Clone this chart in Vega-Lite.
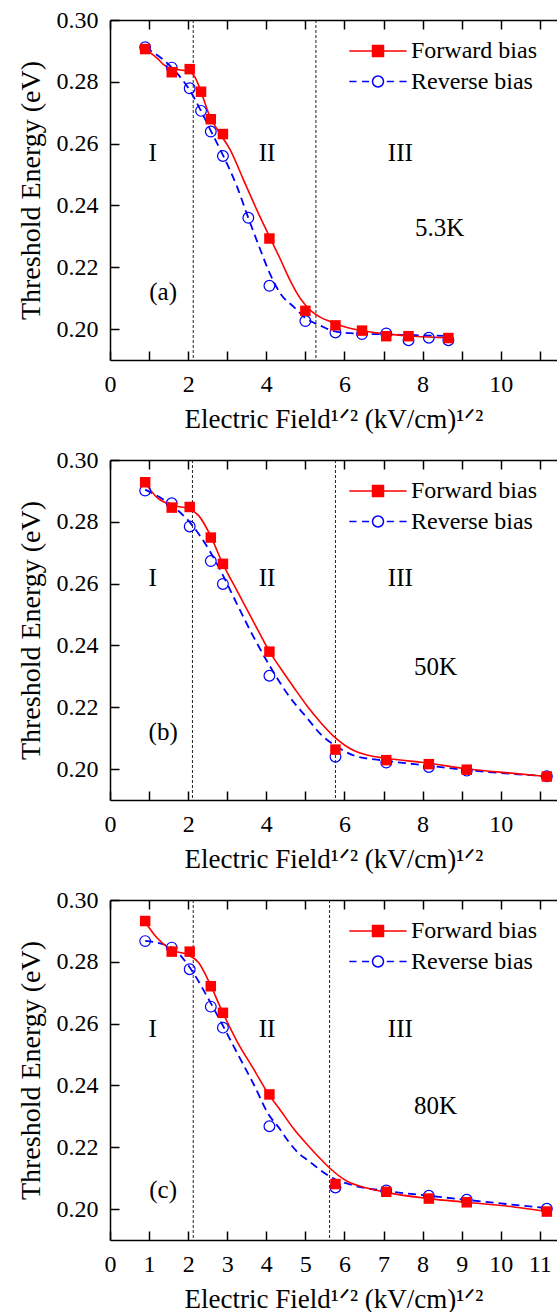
{
"$schema": "https://vega.github.io/schema/vega-lite/v6.json",
"padding": {"left": 17, "top": 8, "right": 0, "bottom": 0},
"bounds": "flush",
"spacing": 100,
"datasets": {
"pts": [
{"p":"a","s":"F","x":0.9,"y":0.2906},{"p":"a","s":"F","x":1.58,"y":0.2831},{"p":"a","s":"F","x":2.04,"y":0.2841},{"p":"a","s":"F","x":2.33,"y":0.2768},{"p":"a","s":"F","x":2.58,"y":0.2679},{"p":"a","s":"F","x":2.89,"y":0.2631},{"p":"a","s":"F","x":4.08,"y":0.2293},{"p":"a","s":"F","x":5.0,"y":0.2059},{"p":"a","s":"F","x":5.77,"y":0.2012},{"p":"a","s":"F","x":6.45,"y":0.1995},{"p":"a","s":"F","x":7.07,"y":0.1977},{"p":"a","s":"F","x":7.64,"y":0.1977},{"p":"a","s":"F","x":8.66,"y":0.1971},
{"p":"a","s":"R","x":0.9,"y":0.2912},{"p":"a","s":"R","x":1.58,"y":0.2846},{"p":"a","s":"R","x":2.04,"y":0.2779},{"p":"a","s":"R","x":2.33,"y":0.2706},{"p":"a","s":"R","x":2.58,"y":0.2639},{"p":"a","s":"R","x":2.89,"y":0.256},{"p":"a","s":"R","x":3.54,"y":0.236},{"p":"a","s":"R","x":4.08,"y":0.214},{"p":"a","s":"R","x":5.0,"y":0.2026},{"p":"a","s":"R","x":5.77,"y":0.1989},{"p":"a","s":"R","x":6.45,"y":0.1984},{"p":"a","s":"R","x":7.07,"y":0.1986},{"p":"a","s":"R","x":7.64,"y":0.1964},{"p":"a","s":"R","x":8.16,"y":0.1972},{"p":"a","s":"R","x":8.66,"y":0.1964},
{"p":"b","s":"F","x":0.9,"y":0.2928},{"p":"b","s":"F","x":1.58,"y":0.2846},{"p":"b","s":"F","x":2.04,"y":0.2848},{"p":"b","s":"F","x":2.58,"y":0.2749},{"p":"b","s":"F","x":2.89,"y":0.2664},{"p":"b","s":"F","x":4.08,"y":0.238},{"p":"b","s":"F","x":5.77,"y":0.2063},{"p":"b","s":"F","x":7.07,"y":0.2029},{"p":"b","s":"F","x":8.16,"y":0.2016},{"p":"b","s":"F","x":9.13,"y":0.1998},{"p":"b","s":"F","x":11.18,"y":0.1976},
{"p":"b","s":"R","x":0.9,"y":0.2901},{"p":"b","s":"R","x":1.58,"y":0.286},{"p":"b","s":"R","x":2.04,"y":0.2785},{"p":"b","s":"R","x":2.58,"y":0.2673},{"p":"b","s":"R","x":2.89,"y":0.2599},{"p":"b","s":"R","x":4.08,"y":0.2302},{"p":"b","s":"R","x":5.77,"y":0.204},{"p":"b","s":"R","x":7.07,"y":0.2021},{"p":"b","s":"R","x":8.16,"y":0.2007},{"p":"b","s":"R","x":9.13,"y":0.1995},{"p":"b","s":"R","x":11.18,"y":0.1977},
{"p":"c","s":"F","x":0.9,"y":0.2932},{"p":"c","s":"F","x":1.58,"y":0.2833},{"p":"c","s":"F","x":2.04,"y":0.2833},{"p":"c","s":"F","x":2.58,"y":0.2721},{"p":"c","s":"F","x":2.89,"y":0.2635},{"p":"c","s":"F","x":4.08,"y":0.2371},{"p":"c","s":"F","x":5.77,"y":0.2081},{"p":"c","s":"F","x":7.07,"y":0.2056},{"p":"c","s":"F","x":8.16,"y":0.2034},{"p":"c","s":"F","x":9.13,"y":0.2022},{"p":"c","s":"F","x":11.18,"y":0.1992},
{"p":"c","s":"R","x":0.9,"y":0.2867},{"p":"c","s":"R","x":1.58,"y":0.2846},{"p":"c","s":"R","x":2.04,"y":0.2776},{"p":"c","s":"R","x":2.58,"y":0.2655},{"p":"c","s":"R","x":2.89,"y":0.2587},{"p":"c","s":"R","x":4.08,"y":0.2268},{"p":"c","s":"R","x":5.77,"y":0.207},{"p":"c","s":"R","x":7.07,"y":0.206},{"p":"c","s":"R","x":8.16,"y":0.2043},{"p":"c","s":"R","x":9.13,"y":0.203},{"p":"c","s":"R","x":11.18,"y":0.2001}
],
"fit": [
{"p":"a","s":"F","x":0.9,"y":0.2906},{"p":"a","s":"F","x":1.21,"y":0.2876},{"p":"a","s":"F","x":1.37,"y":0.2856},{"p":"a","s":"F","x":1.58,"y":0.2843},{"p":"a","s":"F","x":1.76,"y":0.2839},{"p":"a","s":"F","x":2.03,"y":0.2834},{"p":"a","s":"F","x":2.19,"y":0.2811},{"p":"a","s":"F","x":2.36,"y":0.2757},{"p":"a","s":"F","x":2.55,"y":0.2689},{"p":"a","s":"F","x":2.78,"y":0.2639},{"p":"a","s":"F","x":3.08,"y":0.2579},{"p":"a","s":"F","x":3.42,"y":0.2482},{"p":"a","s":"F","x":3.76,"y":0.2385},{"p":"a","s":"F","x":4.09,"y":0.2297},{"p":"a","s":"F","x":4.36,"y":0.2226},{"p":"a","s":"F","x":4.6,"y":0.216},{"p":"a","s":"F","x":4.79,"y":0.2115},{"p":"a","s":"F","x":5.0,"y":0.2078},{"p":"a","s":"F","x":5.2,"y":0.2053},{"p":"a","s":"F","x":5.4,"y":0.2037},{"p":"a","s":"F","x":5.64,"y":0.2024},{"p":"a","s":"F","x":6.07,"y":0.2005},{"p":"a","s":"F","x":6.5,"y":0.1994},{"p":"a","s":"F","x":6.92,"y":0.1986},{"p":"a","s":"F","x":7.77,"y":0.1977},{"p":"a","s":"F","x":8.7,"y":0.1972},
{"p":"a","s":"R","x":0.9,"y":0.2912},{"p":"a","s":"R","x":1.58,"y":0.2846},{"p":"a","s":"R","x":2.03,"y":0.2775},{"p":"a","s":"R","x":2.32,"y":0.2708},{"p":"a","s":"R","x":2.57,"y":0.2644},{"p":"a","s":"R","x":2.89,"y":0.2563},{"p":"a","s":"R","x":3.25,"y":0.2461},{"p":"a","s":"R","x":3.53,"y":0.2363},{"p":"a","s":"R","x":3.85,"y":0.2256},{"p":"a","s":"R","x":4.09,"y":0.218},{"p":"a","s":"R","x":4.36,"y":0.2115},{"p":"a","s":"R","x":4.7,"y":0.2072},{"p":"a","s":"R","x":5.01,"y":0.2035},{"p":"a","s":"R","x":5.39,"y":0.2011},{"p":"a","s":"R","x":5.81,"y":0.1991},{"p":"a","s":"R","x":6.45,"y":0.1985},{"p":"a","s":"R","x":7.07,"y":0.1983},{"p":"a","s":"R","x":7.82,"y":0.198},{"p":"a","s":"R","x":8.67,"y":0.1978},
{"p":"b","s":"F","x":0.9,"y":0.2926},{"p":"b","s":"F","x":1.2,"y":0.2879},{"p":"b","s":"F","x":1.58,"y":0.2854},{"p":"b","s":"F","x":2.01,"y":0.2842},{"p":"b","s":"F","x":2.27,"y":0.282},{"p":"b","s":"F","x":2.55,"y":0.2761},{"p":"b","s":"F","x":2.87,"y":0.2669},{"p":"b","s":"F","x":3.25,"y":0.2577},{"p":"b","s":"F","x":3.68,"y":0.2475},{"p":"b","s":"F","x":4.06,"y":0.2385},{"p":"b","s":"F","x":4.36,"y":0.2327},{"p":"b","s":"F","x":4.7,"y":0.2265},{"p":"b","s":"F","x":5.04,"y":0.2205},{"p":"b","s":"F","x":5.39,"y":0.2151},{"p":"b","s":"F","x":5.77,"y":0.2101},{"p":"b","s":"F","x":6.24,"y":0.206},{"p":"b","s":"F","x":6.6,"y":0.2045},{"p":"b","s":"F","x":7.06,"y":0.2035},{"p":"b","s":"F","x":8.16,"y":0.2019},{"p":"b","s":"F","x":9.12,"y":0.2001},{"p":"b","s":"F","x":10.33,"y":0.1986},{"p":"b","s":"F","x":11.18,"y":0.1976},
{"p":"b","s":"R","x":0.9,"y":0.2904},{"p":"b","s":"R","x":1.56,"y":0.2855},{"p":"b","s":"R","x":2.01,"y":0.2803},{"p":"b","s":"R","x":2.55,"y":0.2706},{"p":"b","s":"R","x":2.87,"y":0.2632},{"p":"b","s":"R","x":3.25,"y":0.2534},{"p":"b","s":"R","x":3.68,"y":0.2426},{"p":"b","s":"R","x":4.06,"y":0.234},{"p":"b","s":"R","x":4.36,"y":0.2278},{"p":"b","s":"R","x":4.53,"y":0.2245},{"p":"b","s":"R","x":5.0,"y":0.2172},{"p":"b","s":"R","x":5.47,"y":0.2103},{"p":"b","s":"R","x":5.77,"y":0.2076},{"p":"b","s":"R","x":6.24,"y":0.2044},{"p":"b","s":"R","x":7.06,"y":0.2027},{"p":"b","s":"R","x":8.16,"y":0.2011},{"p":"b","s":"R","x":9.12,"y":0.1997},{"p":"b","s":"R","x":11.18,"y":0.1977},
{"p":"c","s":"F","x":0.9,"y":0.2929},{"p":"c","s":"F","x":1.2,"y":0.2878},{"p":"c","s":"F","x":1.58,"y":0.2838},{"p":"c","s":"F","x":2.01,"y":0.2822},{"p":"c","s":"F","x":2.27,"y":0.2797},{"p":"c","s":"F","x":2.55,"y":0.2731},{"p":"c","s":"F","x":2.87,"y":0.264},{"p":"c","s":"F","x":3.25,"y":0.2543},{"p":"c","s":"F","x":3.68,"y":0.2452},{"p":"c","s":"F","x":4.06,"y":0.2371},{"p":"c","s":"F","x":4.36,"y":0.232},{"p":"c","s":"F","x":4.7,"y":0.226},{"p":"c","s":"F","x":5.04,"y":0.221},{"p":"c","s":"F","x":5.39,"y":0.2162},{"p":"c","s":"F","x":5.62,"y":0.2133},{"p":"c","s":"F","x":6.07,"y":0.209},{"p":"c","s":"F","x":6.58,"y":0.2068},{"p":"c","s":"F","x":7.06,"y":0.2054},{"p":"c","s":"F","x":8.16,"y":0.2034},{"p":"c","s":"F","x":9.12,"y":0.2022},{"p":"c","s":"F","x":10.33,"y":0.2007},{"p":"c","s":"F","x":11.18,"y":0.1992},
{"p":"c","s":"R","x":0.9,"y":0.2868},{"p":"c","s":"R","x":1.58,"y":0.2846},{"p":"c","s":"R","x":2.01,"y":0.2787},{"p":"c","s":"R","x":2.55,"y":0.2673},{"p":"c","s":"R","x":2.87,"y":0.2598},{"p":"c","s":"R","x":3.25,"y":0.2506},{"p":"c","s":"R","x":3.68,"y":0.2403},{"p":"c","s":"R","x":4.06,"y":0.2306},{"p":"c","s":"R","x":4.36,"y":0.2257},{"p":"c","s":"R","x":4.53,"y":0.2225},{"p":"c","s":"R","x":4.87,"y":0.2176},{"p":"c","s":"R","x":5.04,"y":0.216},{"p":"c","s":"R","x":5.62,"y":0.2106},{"p":"c","s":"R","x":6.24,"y":0.2076},{"p":"c","s":"R","x":7.06,"y":0.2059},{"p":"c","s":"R","x":8.16,"y":0.2043},{"p":"c","s":"R","x":9.12,"y":0.203},{"p":"c","s":"R","x":11.18,"y":0.2003}
],
"vl": [{"p":"a","x":2.13},{"p":"a","x":5.27},{"p":"b","x":2.11},{"p":"b","x":5.77},{"p":"c","x":2.13},{"p":"c","x":5.62}],
"ann": [
{"p":"a","x":1.09,"y":0.2569,"t":"I"},{"p":"a","x":4.02,"y":0.2569,"t":"II"},{"p":"a","x":7.43,"y":0.2569,"t":"III"},{"p":"a","x":8.44,"y":0.2326,"t":"5.3K"},{"p":"a","x":1.36,"y":0.2121,"t":"(a)"},
{"p":"b","x":1.09,"y":0.2617,"t":"I"},{"p":"b","x":4.02,"y":0.2617,"t":"II"},{"p":"b","x":7.43,"y":0.2617,"t":"III"},{"p":"b","x":8.33,"y":0.2329,"t":"50K"},{"p":"b","x":1.36,"y":0.2119,"t":"(b)"},
{"p":"c","x":1.09,"y":0.2584,"t":"I"},{"p":"c","x":4.02,"y":0.2584,"t":"II"},{"p":"c","x":7.43,"y":0.2584,"t":"III"},{"p":"c","x":8.33,"y":0.2333,"t":"80K"},{"p":"c","x":1.36,"y":0.2063,"t":"(c)"}
]
},
"vconcat": [
{"width": 447, "height": 340, "layer": [
 {"data": {"name": "vl"}, "transform": [{"filter": "datum.p === 'a'"}], "mark": {"type": "rule", "strokeDash": [3, 2], "color": "#222", "strokeWidth": 1},
  "encoding": {"x": {"field": "x", "type": "quantitative", "scale": {"domain": [0, 11.44], "nice": false, "zero": false}, "axis": {"orient": "top", "values": [0,1,2,3,4,5,6,7,8,9,10,11], "labels": false, "tickSize": -9, "title": null}}}},
 {"data": {"name": "fit"}, "transform": [{"filter": "datum.p === 'a' && datum.s === 'R'"}], "mark": {"type": "line", "color": "#0000ff", "strokeDash": [8, 5], "strokeWidth": 1.8, "interpolate": "monotone"},
  "encoding": {"x": {"field": "x", "type": "quantitative", "scale": {"domain": [0, 11.44], "nice": false, "zero": false}, "axis": null},
   "y": {"field": "y", "type": "quantitative", "scale": {"domain": [0.19, 0.30], "nice": false, "zero": false}, "axis": {"orient": "left", "values": [0.2,0.22,0.24,0.26,0.28,0.3], "format": ".2f", "tickSize": -9, "labelPadding": 21, "title": "Threshold Energy (eV)", "titlePadding": 11}}}},
 {"data": {"name": "fit"}, "transform": [{"filter": "datum.p === 'a' && datum.s === 'F'"}], "mark": {"type": "line", "color": "#ff0000", "strokeWidth": 1.6, "interpolate": "monotone"},
  "encoding": {"x": {"field": "x", "type": "quantitative", "scale": {"domain": [0, 11.44], "nice": false, "zero": false}, "axis": {"orient": "bottom", "values": [0,1,2,3,4,5,6,7,8,9,10,11], "format": "d", "labelExpr": "datum.value % 2 === 0 ? datum.label : ''", "tickSize": -9, "labelPadding": 21, "title": "Electric Field¹ᐟ² (kV/cm)¹ᐟ²", "titleFontSize": 27, "titlePadding": 10}},
   "y": {"field": "y", "type": "quantitative", "scale": {"domain": [0.19, 0.30], "nice": false, "zero": false}}}},
 {"data": {"name": "pts"}, "transform": [{"filter": "datum.p === 'a' && datum.s === 'R'"}], "mark": {"type": "point", "shape": "circle", "filled": false, "color": "#0000ff", "size": 115, "strokeWidth": 1.2, "opacity": 1},
  "encoding": {"x": {"field": "x", "type": "quantitative", "axis": null}, "y": {"field": "y", "type": "quantitative"}}},
 {"data": {"name": "pts"}, "transform": [{"filter": "datum.p === 'a' && datum.s === 'F'"}], "mark": {"type": "point", "shape": "square", "filled": true, "color": "#ff0000", "size": 110, "opacity": 1},
  "encoding": {"x": {"field": "x", "type": "quantitative", "axis": null}, "y": {"field": "y", "type": "quantitative"}}},
 {"data": {"name": "pts"}, "transform": [{"filter": "datum.y > 1"}], "mark": {"type": "point", "opacity": 1, "strokeWidth": 1.5, "size": 121},
  "encoding": {
   "shape": {"field": "s", "type": "nominal", "title": null, "scale": {"domain": ["F", "R"], "range": ["M-5.2,0H5.2M-1,-1H1V1H-1Z", "M-5.2,0H-3.9M-2.9,0H-1.6M1.6,0H2.9M3.9,0H5.2M1,0A1,1,0,1,1,-1,0A1,1,0,1,1,1,0Z"]}, "legend": {"orient": "none", "legendX": 256, "legendY": 19, "title": null, "labelExpr": "datum.label === 'F' ? 'Forward bias' : 'Reverse bias'"}},
   "stroke": {"field": "s", "type": "nominal", "title": null, "scale": {"domain": ["F", "R"], "range": ["#ff0000", "#0000ff"]}, "legend": {"orient": "none", "legendX": 256, "legendY": 19, "title": null, "labelExpr": "datum.label === 'F' ? 'Forward bias' : 'Reverse bias'"}},
   "fill": {"field": "s", "type": "nominal", "title": null, "scale": {"domain": ["F", "R"], "range": ["#ff0000", "transparent"]}, "legend": {"orient": "none", "legendX": 256, "legendY": 19, "title": null, "labelExpr": "datum.label === 'F' ? 'Forward bias' : 'Reverse bias'"}}}},
 {"data": {"name": "ann"}, "transform": [{"filter": "datum.p === 'a'"}], "mark": {"type": "text", "font": "Liberation Serif", "fontSize": 25, "color": "#000", "baseline": "middle", "align": "center"},
  "encoding": {"x": {"field": "x", "type": "quantitative", "axis": null}, "y": {"field": "y", "type": "quantitative"}, "text": {"field": "t"}}}
]},
{"width": 447, "height": 340, "layer": [
 {"data": {"name": "vl"}, "transform": [{"filter": "datum.p === 'b'"}], "mark": {"type": "rule", "strokeDash": [3, 2], "color": "#222", "strokeWidth": 1},
  "encoding": {"x": {"field": "x", "type": "quantitative", "scale": {"domain": [0, 11.44], "nice": false, "zero": false}, "axis": {"orient": "top", "values": [0,1,2,3,4,5,6,7,8,9,10,11], "labels": false, "tickSize": -9, "title": null}}}},
 {"data": {"name": "fit"}, "transform": [{"filter": "datum.p === 'b' && datum.s === 'R'"}], "mark": {"type": "line", "color": "#0000ff", "strokeDash": [8, 5], "strokeWidth": 1.8, "interpolate": "monotone"},
  "encoding": {"x": {"field": "x", "type": "quantitative", "scale": {"domain": [0, 11.44], "nice": false, "zero": false}, "axis": null},
   "y": {"field": "y", "type": "quantitative", "scale": {"domain": [0.19, 0.30], "nice": false, "zero": false}, "axis": {"orient": "left", "values": [0.2,0.22,0.24,0.26,0.28,0.3], "format": ".2f", "tickSize": -9, "labelPadding": 21, "title": "Threshold Energy (eV)", "titlePadding": 11}}}},
 {"data": {"name": "fit"}, "transform": [{"filter": "datum.p === 'b' && datum.s === 'F'"}], "mark": {"type": "line", "color": "#ff0000", "strokeWidth": 1.6, "interpolate": "monotone"},
  "encoding": {"x": {"field": "x", "type": "quantitative", "scale": {"domain": [0, 11.44], "nice": false, "zero": false}, "axis": {"orient": "bottom", "values": [0,1,2,3,4,5,6,7,8,9,10,11], "format": "d", "labelExpr": "datum.value % 2 === 0 ? datum.label : ''", "tickSize": -9, "labelPadding": 21, "title": "Electric Field¹ᐟ² (kV/cm)¹ᐟ²", "titleFontSize": 27, "titlePadding": 10}},
   "y": {"field": "y", "type": "quantitative", "scale": {"domain": [0.19, 0.30], "nice": false, "zero": false}}}},
 {"data": {"name": "pts"}, "transform": [{"filter": "datum.p === 'b' && datum.s === 'R'"}], "mark": {"type": "point", "shape": "circle", "filled": false, "color": "#0000ff", "size": 115, "strokeWidth": 1.2, "opacity": 1},
  "encoding": {"x": {"field": "x", "type": "quantitative", "axis": null}, "y": {"field": "y", "type": "quantitative"}}},
 {"data": {"name": "pts"}, "transform": [{"filter": "datum.p === 'b' && datum.s === 'F'"}], "mark": {"type": "point", "shape": "square", "filled": true, "color": "#ff0000", "size": 110, "opacity": 1},
  "encoding": {"x": {"field": "x", "type": "quantitative", "axis": null}, "y": {"field": "y", "type": "quantitative"}}},
 {"data": {"name": "pts"}, "transform": [{"filter": "datum.y > 1"}], "mark": {"type": "point", "opacity": 1, "strokeWidth": 1.5, "size": 121},
  "encoding": {
   "shape": {"field": "s", "type": "nominal", "title": null, "scale": {"domain": ["F", "R"], "range": ["M-5.2,0H5.2M-1,-1H1V1H-1Z", "M-5.2,0H-3.9M-2.9,0H-1.6M1.6,0H2.9M3.9,0H5.2M1,0A1,1,0,1,1,-1,0A1,1,0,1,1,1,0Z"]}, "legend": {"orient": "none", "legendX": 256, "legendY": 19, "title": null, "labelExpr": "datum.label === 'F' ? 'Forward bias' : 'Reverse bias'"}},
   "stroke": {"field": "s", "type": "nominal", "title": null, "scale": {"domain": ["F", "R"], "range": ["#ff0000", "#0000ff"]}, "legend": {"orient": "none", "legendX": 256, "legendY": 19, "title": null, "labelExpr": "datum.label === 'F' ? 'Forward bias' : 'Reverse bias'"}},
   "fill": {"field": "s", "type": "nominal", "title": null, "scale": {"domain": ["F", "R"], "range": ["#ff0000", "transparent"]}, "legend": {"orient": "none", "legendX": 256, "legendY": 19, "title": null, "labelExpr": "datum.label === 'F' ? 'Forward bias' : 'Reverse bias'"}}}},
 {"data": {"name": "ann"}, "transform": [{"filter": "datum.p === 'b'"}], "mark": {"type": "text", "font": "Liberation Serif", "fontSize": 25, "color": "#000", "baseline": "middle", "align": "center"},
  "encoding": {"x": {"field": "x", "type": "quantitative", "axis": null}, "y": {"field": "y", "type": "quantitative"}, "text": {"field": "t"}}}
]},
{"width": 447, "height": 340, "layer": [
 {"data": {"name": "vl"}, "transform": [{"filter": "datum.p === 'c'"}], "mark": {"type": "rule", "strokeDash": [3, 2], "color": "#222", "strokeWidth": 1},
  "encoding": {"x": {"field": "x", "type": "quantitative", "scale": {"domain": [0, 11.44], "nice": false, "zero": false}, "axis": {"orient": "top", "values": [0,1,2,3,4,5,6,7,8,9,10,11], "labels": false, "tickSize": -9, "title": null}}}},
 {"data": {"name": "fit"}, "transform": [{"filter": "datum.p === 'c' && datum.s === 'R'"}], "mark": {"type": "line", "color": "#0000ff", "strokeDash": [8, 5], "strokeWidth": 1.8, "interpolate": "monotone"},
  "encoding": {"x": {"field": "x", "type": "quantitative", "scale": {"domain": [0, 11.44], "nice": false, "zero": false}, "axis": null},
   "y": {"field": "y", "type": "quantitative", "scale": {"domain": [0.19, 0.30], "nice": false, "zero": false}, "axis": {"orient": "left", "values": [0.2,0.22,0.24,0.26,0.28,0.3], "format": ".2f", "tickSize": -9, "labelPadding": 21, "title": "Threshold Energy (eV)", "titlePadding": 11}}}},
 {"data": {"name": "fit"}, "transform": [{"filter": "datum.p === 'c' && datum.s === 'F'"}], "mark": {"type": "line", "color": "#ff0000", "strokeWidth": 1.6, "interpolate": "monotone"},
  "encoding": {"x": {"field": "x", "type": "quantitative", "scale": {"domain": [0, 11.44], "nice": false, "zero": false}, "axis": {"orient": "bottom", "values": [0,1,2,3,4,5,6,7,8,9,10,11], "format": "d", "tickSize": -9, "labelPadding": 21, "title": "Electric Field¹ᐟ² (kV/cm)¹ᐟ²", "titleFontSize": 27, "titlePadding": 10}},
   "y": {"field": "y", "type": "quantitative", "scale": {"domain": [0.19, 0.30], "nice": false, "zero": false}}}},
 {"data": {"name": "pts"}, "transform": [{"filter": "datum.p === 'c' && datum.s === 'R'"}], "mark": {"type": "point", "shape": "circle", "filled": false, "color": "#0000ff", "size": 115, "strokeWidth": 1.2, "opacity": 1},
  "encoding": {"x": {"field": "x", "type": "quantitative", "axis": null}, "y": {"field": "y", "type": "quantitative"}}},
 {"data": {"name": "pts"}, "transform": [{"filter": "datum.p === 'c' && datum.s === 'F'"}], "mark": {"type": "point", "shape": "square", "filled": true, "color": "#ff0000", "size": 110, "opacity": 1},
  "encoding": {"x": {"field": "x", "type": "quantitative", "axis": null}, "y": {"field": "y", "type": "quantitative"}}},
 {"data": {"name": "pts"}, "transform": [{"filter": "datum.y > 1"}], "mark": {"type": "point", "opacity": 1, "strokeWidth": 1.5, "size": 121},
  "encoding": {
   "shape": {"field": "s", "type": "nominal", "title": null, "scale": {"domain": ["F", "R"], "range": ["M-5.2,0H5.2M-1,-1H1V1H-1Z", "M-5.2,0H-3.9M-2.9,0H-1.6M1.6,0H2.9M3.9,0H5.2M1,0A1,1,0,1,1,-1,0A1,1,0,1,1,1,0Z"]}, "legend": {"orient": "none", "legendX": 256, "legendY": 19, "title": null, "labelExpr": "datum.label === 'F' ? 'Forward bias' : 'Reverse bias'"}},
   "stroke": {"field": "s", "type": "nominal", "title": null, "scale": {"domain": ["F", "R"], "range": ["#ff0000", "#0000ff"]}, "legend": {"orient": "none", "legendX": 256, "legendY": 19, "title": null, "labelExpr": "datum.label === 'F' ? 'Forward bias' : 'Reverse bias'"}},
   "fill": {"field": "s", "type": "nominal", "title": null, "scale": {"domain": ["F", "R"], "range": ["#ff0000", "transparent"]}, "legend": {"orient": "none", "legendX": 256, "legendY": 19, "title": null, "labelExpr": "datum.label === 'F' ? 'Forward bias' : 'Reverse bias'"}}}},
 {"data": {"name": "ann"}, "transform": [{"filter": "datum.p === 'c'"}], "mark": {"type": "text", "font": "Liberation Serif", "fontSize": 25, "color": "#000", "baseline": "middle", "align": "center"},
  "encoding": {"x": {"field": "x", "type": "quantitative", "axis": null}, "y": {"field": "y", "type": "quantitative"}, "text": {"field": "t"}}}
]}
],
"resolve": {"scale": {"x": "independent", "y": "independent", "shape": "independent", "stroke": "independent", "fill": "independent"}, "legend": {"shape": "independent", "stroke": "independent", "fill": "independent"}},
"config": {
 "view": {"stroke": null},
 "font": "Liberation Serif",
 "axis": {"labelFont": "Liberation Serif", "labelFontSize": 24, "labelColor": "#000", "titleFont": "Liberation Serif", "titleFontSize": 28, "titleFontWeight": "normal", "titleColor": "#000", "domainColor": "#000", "domainWidth": 1.5, "tickColor": "#000", "tickWidth": 1.5, "grid": false, "labelFlush": false, "labelOverlap": false},
 "legend": {"labelFont": "Liberation Serif", "labelFontSize": 24, "labelColor": "#000", "symbolSize": 121, "symbolStrokeWidth": 1.5, "labelOffset": 21, "rowPadding": 6.5, "padding": 0, "labelLimit": 400}
}
}
